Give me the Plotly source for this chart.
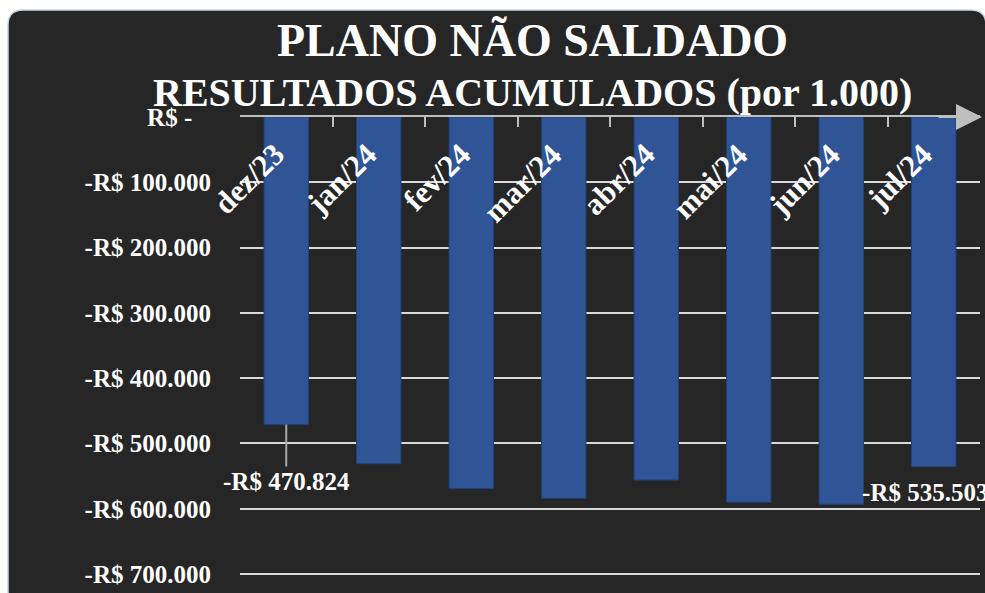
import plotly.graph_objects as go

# ---- data ----
months = ["dez/23", "jan/24", "fev/24", "mar/24", "abr/24", "mai/24", "jun/24", "jul/24"]
resultados = [-470824, -531000, -569000, -584000, -556000, -590000, -593000, -535503]
labeled_months = ["dez/23", "jul/24"]
y_tickvals = [0, -100000, -200000, -300000, -400000, -500000, -600000, -700000]
y_ticktext = ["R$ -\u00a0\u00a0\u00a0", "-R$ 100.000", "-R$ 200.000", "-R$ 300.000",
              "-R$ 400.000", "-R$ 500.000", "-R$ 600.000", "-R$ 700.000"]
title1 = "PLANO NÃO SALDADO"
title2 = "RESULTADOS ACUMULADOS (por 1.000)"

W, H = 985, 593
L, R, T, B = 240, 980, 117, 576
YMIN = -703000
FONT = "Liberation Serif"
WHITE = "#ffffff"
BAR = "#2f5597"


def px(xp):
    return (xp - L) / (R - L)


def py(yp):
    return (B - yp) / (B - T)


def fmt(v):
    s = f"{abs(v):,.0f}".replace(",", ".")
    return ("-" if v < 0 else "") + "R$ " + s


fig = go.Figure()
fig.add_trace(go.Bar(
    x=months, y=resultados,
    marker=dict(color=BAR, line=dict(color="#22407a", width=1)),
    width=0.48, hoverinfo="skip",
))

# dark rounded panel
x0, x1, yt, yb = px(8), px(986), py(10), py(606)
rx, ry = 15 / (R - L), 15 / (B - T)
path = (f"M {x0+rx},{yt} L {x1-rx},{yt} Q {x1},{yt} {x1},{yt-ry} "
        f"L {x1},{yb+ry} Q {x1},{yb} {x1-rx},{yb} L {x0+rx},{yb} "
        f"Q {x0},{yb} {x0},{yb+ry} L {x0},{yt-ry} Q {x0},{yt} {x0+rx},{yt} Z")
shapes = [dict(type="path", path=path, xref="paper", yref="paper",
               fillcolor="#262626", line=dict(color="#c9d5e6", width=1.5), layer="below")]

annotations = [
    dict(text=f"<b>{title1}</b>", x=px(532), y=py(40), xref="paper", yref="paper",
         showarrow=False, font=dict(family=FONT, size=46, color=WHITE),
         xanchor="center", yanchor="middle"),
    dict(text=f"<b>{title2}</b>", x=px(532), y=py(92), xref="paper", yref="paper",
         showarrow=False, font=dict(family=FONT, size=40, color=WHITE),
         xanchor="center", yanchor="middle"),
    # axis arrow
    dict(x=px(982), y=0, xref="paper", yref="y", ax=-45, ay=0, axref="pixel", ayref="pixel",
         showarrow=True, arrowhead=2, arrowsize=2.6, arrowwidth=2, arrowcolor="#bfbfbf", text=""),
]

for m in months:
    annotations.append(dict(
        text=f"<b>{m}</b>", x=m, y=0, xref="x", yref="y", showarrow=False, textangle=-45,
        xanchor="right", yanchor="top", xshift=8, yshift=-17,
        font=dict(family=FONT, size=31, color=WHITE),
    ))

for m, v in zip(months, resultados):
    if m not in labeled_months:
        continue
    if m == months[0]:
        annotations.append(dict(
            text=f"<b>{fmt(v)}</b>", x=m, y=v, xref="x", yref="y", showarrow=True,
            arrowhead=0, arrowwidth=2, arrowcolor="#a6a6a6", ax=0, ay=57, standoff=0,
            font=dict(family=FONT, size=25, color=WHITE)))
    else:
        annotations.append(dict(
            text=f"<b>{fmt(v)}</b>", x=m, y=v, xref="x", yref="y", showarrow=False,
            xanchor="left", yanchor="middle", xshift=-74, yshift=-26,
            font=dict(family=FONT, size=25, color=WHITE)))

fig.update_layout(
    width=W, height=H,
    margin=dict(l=L, r=W - R, t=T, b=H - B),
    paper_bgcolor="#ffffff", plot_bgcolor="rgba(0,0,0,0)",
    showlegend=False, bargap=0.52,
    shapes=shapes, annotations=annotations,
    xaxis=dict(side="top", showticklabels=False, showline=True, linecolor="#bfbfbf", linewidth=2,
               ticks="inside", tickson="boundaries", ticklen=10, tickwidth=2, tickcolor="#bfbfbf",
               showgrid=False, range=[-0.5, 7.5], fixedrange=True),
    yaxis=dict(range=[YMIN, 0], tickvals=y_tickvals, ticktext=y_ticktext,
               showgrid=True, gridcolor="#d9d9d9", gridwidth=2, zeroline=False,
               showline=False, ticks="", ticklabelstandoff=28,
               tickfont=dict(family=FONT, size=25, color=WHITE, weight="bold"),
               fixedrange=True),
)

fig.write_html("out.html", config={"displayModeBar": False},
               post_script="document.body.style.margin='0px';document.body.style.overflow='hidden';")
